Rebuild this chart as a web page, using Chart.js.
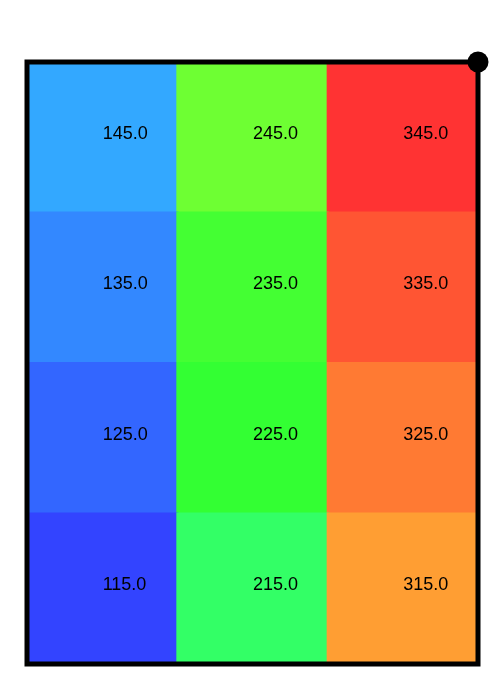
<!DOCTYPE html>
<html><head><meta charset="utf-8">
<script src="https://cdn.jsdelivr.net/npm/chart.js@4/dist/chart.umd.min.js"></script>
<style>html,body{margin:0;padding:0;background:#fff}#wrap{width:503px;height:673px}</style>
</head><body><div id="wrap"><canvas id="c" width="503" height="673"></canvas></div>
<script>
// Columns (left to right)
const columns = ['A', 'B', 'C'];
// Rows from bottom to top; values per column
const row1Values = [115, 215, 315];
const row2Values = [125, 225, 325];
const row3Values = [135, 235, 335];
const row4Values = [145, 245, 345];
// Cell colours per row (bottom to top), per column
const row1Colors = ['#3344FF', '#33FF66', '#FF9E33'];
const row2Colors = ['#3366FF', '#33FF33', '#FF7A33'];
const row3Colors = ['#3388FF', '#44FF33', '#FF5533'];
const row4Colors = ['#33A8FF', '#6EFF33', '#FF3333'];

const rowsValues = [row1Values, row2Values, row3Values, row4Values];
const rowsColors = [row1Colors, row2Colors, row3Colors, row4Colors];

const datasets = rowsValues.map((vals, i) => ({
  label: 'row' + (i + 1),
  data: vals.map(() => 1),
  cellValues: vals,
  backgroundColor: rowsColors[i],
  borderWidth: 0,
  inflateAmount: 1,
  categoryPercentage: 1.0,
  barPercentage: 1.0,
  stack: 's'
}));

const cellLabels = {
  id: 'cellLabels',
  afterDatasetsDraw(chart) {
    const ctx = chart.ctx;
    ctx.save();
    ctx.font = '18px "Liberation Sans", Arial, sans-serif';
    ctx.fillStyle = '#000';
    ctx.textAlign = 'left';
    ctx.textBaseline = 'alphabetic';
    chart.data.datasets.forEach((ds, di) => {
      const meta = chart.getDatasetMeta(di);
      meta.data.forEach((bar, j) => {
        const p = bar.getProps(['x', 'y', 'base'], true);
        const cy = (p.y + p.base) / 2;
        ctx.fillText(ds.cellValues[j].toFixed(1), p.x + 0.5, cy + 1.5);
      });
    });
    ctx.restore();
  }
};

const frame = {
  id: 'frame',
  afterDraw(chart) {
    const a = chart.chartArea;
    const ctx = chart.ctx;
    ctx.save();
    ctx.strokeStyle = '#000';
    ctx.lineWidth = 5;
    ctx.lineCap = 'square';
    ctx.beginPath();
    ctx.moveTo(a.left, a.top); ctx.lineTo(a.right, a.top);
    ctx.moveTo(a.left, a.bottom); ctx.lineTo(a.right, a.bottom);
    ctx.moveTo(a.left, a.top); ctx.lineTo(a.left, a.bottom);
    ctx.moveTo(a.right, a.top); ctx.lineTo(a.right, a.bottom);
    ctx.stroke();
    ctx.beginPath();
    ctx.fillStyle = '#000';
    ctx.arc(a.right, a.top, 10.5, 0, Math.PI * 2);
    ctx.fill();
    ctx.restore();
  }
};

new Chart(document.getElementById('c'), {
  type: 'bar',
  data: { labels: columns, datasets },
  options: {
    responsive: false,
    animation: false,
    layout: { padding: { left: 27, right: 25, top: 62, bottom: 9 } },
    plugins: { legend: { display: false }, tooltip: { enabled: false } },
    scales: {
      x: { display: false, stacked: true, offset: true, grid: { display: false } },
      y: { display: false, stacked: true, min: 0, max: 4, grid: { display: false } }
    }
  },
  plugins: [cellLabels, frame]
});
</script>
</body></html>
